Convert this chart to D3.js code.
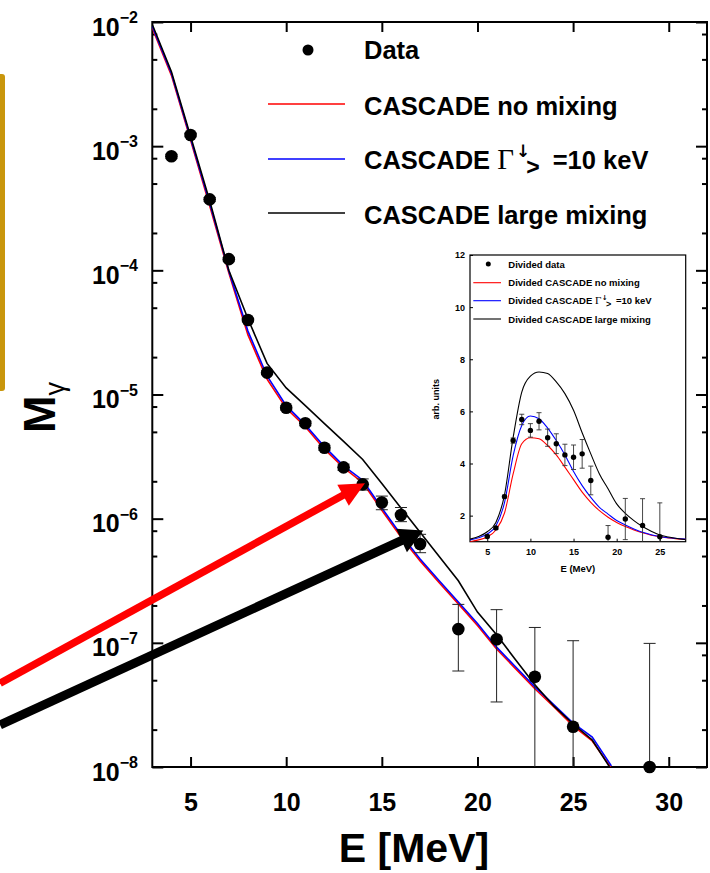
<!DOCTYPE html>
<html>
<head>
<meta charset="utf-8">
<script src="https://cdn.jsdelivr.net/npm/d3@7"></script>
<style>
  body { margin: 0; background: #fff; }
  svg { display: block; }
  text { font-family: "Liberation Sans", Arial, sans-serif; }
  .gray-aa { opacity: 0.995; }
</style>
</head>
<body>
<svg id="chart" width="710" height="873"></svg>
<script>
// ---- Main panel: gamma multiplicity vs energy ----
const modelEnergy = [3, 4, 5, 6, 7, 8, 9, 10, 11, 12, 13, 14, 15, 16, 17, 18, 19, 20, 21, 22, 23, 24, 25, 26, 27];
const noMixing = [8.91e-3, 3.72e-3, 1.12e-3, 3.31e-4, 9.55e-5, 3.02e-5, 1.33e-5, 7.74e-6, 5.50e-6, 3.63e-6, 2.57e-6, 1.95e-6, 1.17e-6, 7.13e-7, 4.57e-7, 3.05e-7, 2.06e-7, 1.38e-7, 8.91e-8, 6.17e-8, 4.27e-8, 3.04e-8, 2.14e-8, 1.62e-8, 9.8e-9];
const gamma10keV = [9.23e-3, 3.85e-3, 1.16e-3, 3.47e-4, 9.89e-5, 3.24e-5, 1.41e-5, 8.13e-6, 5.69e-6, 3.80e-6, 2.66e-6, 2.04e-6, 1.22e-6, 7.41e-7, 4.73e-7, 3.16e-7, 2.13e-7, 1.43e-7, 9.23e-8, 6.38e-8, 4.42e-8, 3.16e-8, 2.26e-8, 1.74e-8, 1.02e-8];
const largeMixing = [9.55e-3, 3.98e-3, 1.20e-3, 3.63e-4, 1.00e-4, 4.07e-5, 1.78e-5, 1.13e-5, 8.13e-6, 5.83e-6, 4.19e-6, 3.00e-6, 1.92e-6, 1.22e-6, 7.78e-7, 4.95e-7, 3.16e-7, 1.77e-7, 1.16e-7, 7.28e-8, 4.59e-8, 3.09e-8, 2.22e-8, 1.65e-8, 9.5e-9];

const dataEnergy = [4, 5, 6, 7, 8, 9, 10, 11, 12, 13, 14, 15, 16, 17, 19, 21, 23, 25, 29];
const dataM = [8.3e-4, 1.23e-3, 3.73e-4, 1.23e-4, 3.98e-5, 1.50e-5, 7.83e-6, 5.86e-6, 3.73e-6, 2.59e-6, 1.89e-6, 1.35e-6, 1.07e-6, 6.25e-7, 1.29e-7, 1.07e-7, 5.33e-8, 2.11e-8, 1.0e-8];
const dataLow = [8.0e-4, 1.19e-3, 3.6e-4, 1.19e-4, 3.85e-5, 1.45e-5, 7.5e-6, 5.6e-6, 3.55e-6, 2.45e-6, 1.70e-6, 1.18e-6, 9.46e-7, 5.32e-7, 5.93e-8, 3.34e-8, 0, 0, 0];
const dataHigh = [8.6e-4, 1.27e-3, 3.86e-4, 1.27e-4, 4.1e-5, 1.55e-5, 8.1e-6, 6.1e-6, 3.9e-6, 2.75e-6, 2.09e-6, 1.52e-6, 1.23e-6, 7.48e-7, 2.04e-7, 1.85e-7, 1.33e-7, 1.04e-7, 9.9e-8];

const xTickValues = [5, 10, 15, 20, 25, 30];
const yMajorExponents = [-2, -3, -4, -5, -6, -7, -8];
const yMinorMantissas = [2, 5, 8];

// arrows pointing at the 14 MeV and 17 MeV region (energy, multiplicity)
const arrowRed = { from: [-4.96, 4.72e-8], to: [14.12, 1.93e-6] };
const arrowBlack = { from: [-4.96, 2.18e-8], to: [17.17, 8.03e-7] };

// ---- Inset: divided spectra ----
const insetEnergy = [3, 4, 5, 6, 7, 8, 9, 10, 11, 12, 13, 14, 15, 16, 17, 18, 19, 20, 21, 22, 23, 24, 25, 26, 27, 28];
const insetNoMixing = [1.0, 1.07, 1.18, 1.45, 2.1, 3.6, 4.76, 4.99, 4.95, 4.69, 4.33, 3.86, 3.38, 2.9, 2.51, 2.19, 1.94, 1.74, 1.58, 1.45, 1.34, 1.25, 1.19, 1.14, 1.11, 1.09];
const insetGamma10keV = [1.07, 1.15, 1.3, 1.6, 2.5, 4.3, 5.46, 5.82, 5.72, 5.36, 4.88, 4.33, 3.69, 3.15, 2.70, 2.32, 2.06, 1.81, 1.64, 1.49, 1.36, 1.27, 1.2, 1.15, 1.12, 1.1];
const insetLargeMixing = [1.1, 1.2, 1.38, 1.74, 2.8, 5.0, 6.74, 7.35, 7.51, 7.45, 7.13, 6.68, 6.04, 5.18, 4.37, 3.6, 3.03, 2.45, 2.09, 1.81, 1.58, 1.4, 1.26, 1.18, 1.12, 1.08];
const insetDataEnergy = [5, 6, 7, 8, 9, 10, 11, 12, 13, 14, 15, 16, 17, 19, 21, 23, 25];
const insetDataValue = [1.2, 1.53, 2.73, 4.88, 5.69, 5.27, 5.62, 4.99, 4.76, 4.33, 4.24, 4.37, 3.35, 1.17, 1.87, 1.62, 1.19];
const insetDataError = [0.05, 0.05, 0.06, 0.1, 0.2, 0.26, 0.33, 0.33, 0.38, 0.41, 0.47, 0.55, 0.55, 0.45, 0.79, 1.03, 1.3];
const insetXTicks = [5, 10, 15, 20, 25];
const insetYTicks = [2, 4, 6, 8, 10, 12];

const RED = "#ff0000", BLUE = "#0000ff", BLACK = "#000000";
const ARROW_FONT = "DejaVu Sans, sans-serif";

const svg = d3.select("#chart");
svg.append("rect").attr("width", 710).attr("height", 873).attr("fill", "#fff");

// layout
const L = 152.3, R = 707, T = 22, B = 767;
const x = d3.scaleLinear().domain([3, 32]).range([L, R]);
const y = d3.scaleLog().domain([1e-8, 1e-2]).range([B, T]);

// side accent bar
svg.append("rect").attr("x", -5).attr("y", 74).attr("width", 10).attr("height", 317)
  .attr("rx", 3).attr("fill", "#c9960c");

svg.append("defs").append("clipPath").attr("id", "plotClip")
  .append("rect").attr("x", L).attr("y", T).attr("width", R - L).attr("height", B - T);

// axes: ticks drawn inward on all four sides
const yMajor = yMajorExponents.map(e => Math.pow(10, e));
const yMinor = [];
yMajorExponents.slice(1).forEach(e => yMinorMantissas.forEach(m => yMinor.push(m * Math.pow(10, e))));

function styleAxis(g) {
  g.select(".domain").remove();
  g.selectAll(".tick line").attr("stroke", "#000").attr("stroke-width", 2);
}
svg.append("g").attr("transform", `translate(${L},0)`)
  .call(d3.axisLeft(y).tickValues(yMajor).tickSize(-11).tickFormat("")).call(styleAxis);
svg.append("g").attr("transform", `translate(${L},0)`)
  .call(d3.axisLeft(y).tickValues(yMinor).tickSize(-5).tickFormat("")).call(styleAxis);
svg.append("g").attr("transform", `translate(${R},0)`)
  .call(d3.axisRight(y).tickValues(yMajor).tickSize(-11).tickFormat("")).call(styleAxis);
svg.append("g").attr("transform", `translate(${R},0)`)
  .call(d3.axisRight(y).tickValues(yMinor).tickSize(-5).tickFormat("")).call(styleAxis);
svg.append("g").attr("transform", `translate(0,${T})`)
  .call(d3.axisTop(x).tickValues(xTickValues).tickSize(-10).tickFormat("")).call(styleAxis);
const xAxisG = svg.append("g").attr("transform", `translate(0,${B})`)
  .call(d3.axisBottom(x).tickValues(xTickValues).tickSize(-10).tickPadding(26).tickFormat(d3.format("d")));
styleAxis(xAxisG);
xAxisG.selectAll(".tick text").attr("font-size", 25).attr("font-weight", "bold")
  .attr("font-family", "Liberation Sans, Arial, sans-serif").attr("fill", "#000");

svg.append("rect").attr("x", L).attr("y", T).attr("width", R - L).attr("height", B - T)
  .attr("fill", "none").attr("stroke", "#000").attr("stroke-width", 2);

// y tick labels as powers of ten
const yLab = svg.append("g");
yMajorExponents.forEach(e => {
  const t = yLab.append("text").attr("x", 138).attr("y", y(Math.pow(10, e)) + 13.5)
    .attr("text-anchor", "end").attr("font-size", 25).attr("font-weight", "bold");
  t.append("tspan").text("10");
  t.append("tspan").attr("font-size", 16).attr("dy", -12.5).text("\u2212" + Math.abs(e));
});

// model curves
const curves = [
  { values: noMixing, color: RED },
  { values: gamma10keV, color: BLUE },
  { values: largeMixing, color: BLACK }
];
const line = d3.line().x(d => x(d[0])).y(d => y(d[1]));
const curveG = svg.append("g").attr("clip-path", "url(#plotClip)");
curves.forEach(c => {
  curveG.append("path").datum(modelEnergy.map((e, i) => [e, c.values[i]]))
    .attr("d", line).attr("fill", "none").attr("stroke", c.color).attr("stroke-width", 1.6);
});

// data with error bars
const pts = dataEnergy.map((e, i) => ({ e, v: dataM[i], lo: dataLow[i], hi: dataHigh[i] }));
const yc = v => y(Math.max(v, 1e-8));
const errG = svg.append("g").attr("stroke", "#222").attr("stroke-width", 1);
pts.forEach(p => {
  const cx = x(p.e);
  errG.append("line").attr("x1", cx).attr("x2", cx).attr("y1", yc(p.lo)).attr("y2", yc(p.hi));
  errG.append("line").attr("x1", cx - 6).attr("x2", cx + 6).attr("y1", yc(p.hi)).attr("y2", yc(p.hi));
  if (p.lo > 1e-8) errG.append("line").attr("x1", cx - 6).attr("x2", cx + 6).attr("y1", yc(p.lo)).attr("y2", yc(p.lo));
});
svg.append("g").selectAll("circle").data(pts).join("circle")
  .attr("cx", d => x(d.e)).attr("cy", d => y(d.v)).attr("r", 6.3).attr("fill", "#000");

// axis titles
svg.append("text").attr("x", 414).attr("y", 862).attr("text-anchor", "middle")
  .attr("font-family", "Open Sans, sans-serif").attr("font-weight", "bold").attr("font-size", 41)
  .text("E [MeV]");
const yTitle = svg.append("text").attr("transform", "translate(55,433) rotate(-90)")
  .attr("font-weight", "bold").attr("font-size", 45);
yTitle.append("tspan").text("M");
yTitle.append("tspan").attr("font-size", 27).attr("font-weight", "normal").attr("dy", 9).text("\u03b3");

// legend
const lg = svg.append("g").attr("font-size", 25.5).attr("font-weight", "bold").attr("fill", "#000");
lg.append("circle").attr("cx", 308).attr("cy", 50).attr("r", 5.5).attr("fill", "#000");
lg.append("text").attr("x", 364).attr("y", 59).text("Data");
[[104, RED, "CASCADE no mixing"], [213, BLACK, "CASCADE large mixing"]].forEach(([yy, col, label]) => {
  lg.append("line").attr("x1", 268).attr("x2", 345).attr("y1", yy).attr("y2", yy)
    .attr("stroke", col).attr("stroke-width", 1.6);
  lg.append("text").attr("x", 364).attr("y", yy + 11).text(label);
});
lg.append("line").attr("x1", 268).attr("x2", 345).attr("y1", 159).attr("y2", 159)
  .attr("stroke", BLUE).attr("stroke-width", 1.6);
const gl = lg.append("text").attr("class", "gray-aa").attr("x", 364).attr("y", 169);
gl.append("tspan").text("CASCADE ");
gl.append("tspan").attr("font-family", "Liberation Serif, serif").attr("font-weight", "normal").attr("font-size", 29).text("\u0393");
gl.append("tspan").attr("font-family", ARROW_FONT).attr("font-weight", "bold").attr("fill", "#000")
  .attr("font-size", 17).attr("dx", 2).attr("dy", -12).text("\u2193");
gl.append("tspan").attr("font-size", 23).attr("dx", -4).attr("dy", 18).text(">");
gl.append("tspan").attr("dx", 6).attr("dy", -6).text(" =10 keV");

// arrows
function drawArrow(a, color, width, headLen, headHalf) {
  const x0 = x(a.from[0]), y0 = y(a.from[1]);
  const x1 = x(a.to[0]), y1 = y(a.to[1]);
  const len = Math.hypot(x1 - x0, y1 - y0);
  const ux = (x1 - x0) / len, uy = (y1 - y0) / len;
  const bx = x1 - headLen * ux, by = y1 - headLen * uy;
  svg.append("line").attr("x1", x0).attr("y1", y0).attr("x2", bx + ux).attr("y2", by + uy)
    .attr("stroke", color).attr("stroke-width", width);
  svg.append("polygon").attr("fill", color).attr("points", [
    [x1, y1], [bx - headHalf * uy, by + headHalf * ux], [bx + headHalf * uy, by - headHalf * ux]
  ].map(p => p.join(",")).join(" "));
}
drawArrow(arrowRed, RED, 7.5, 25, 12);
drawArrow(arrowBlack, BLACK, 9, 24, 13);

// ---- inset ----
const iL = 470, iR = 685.7, iT = 255, iB = 541.7;
const xi = d3.scaleLinear().domain([3, 28]).range([iL, iR]);
const yi = d3.scaleLinear().domain([1, 12]).range([iB, iT]);
const inset = svg.append("g");
inset.append("rect").attr("x", iL).attr("y", iT).attr("width", iR - iL).attr("height", iB - iT).attr("fill", "#fff");
inset.append("defs").append("clipPath").attr("id", "insetClip")
  .append("rect").attr("x", iL).attr("y", iT).attr("width", iR - iL).attr("height", iB - iT);

function styleInsetAxis(g) {
  g.select(".domain").remove();
  g.selectAll(".tick line").attr("stroke", "#000").attr("stroke-width", 1);
  g.selectAll(".tick text").attr("font-size", 9).attr("font-weight", "bold")
    .attr("font-family", "Liberation Sans, Arial, sans-serif").attr("fill", "#000");
}
inset.append("g").attr("transform", `translate(${iL},0)`)
  .call(d3.axisLeft(yi).tickValues(insetYTicks).tickSize(-3).tickPadding(5).tickFormat(d3.format("d")))
  .call(styleInsetAxis);
inset.append("g").attr("transform", `translate(0,${iB})`)
  .call(d3.axisBottom(xi).tickValues(insetXTicks).tickSize(-3).tickPadding(7).tickFormat(d3.format("d")))
  .call(styleInsetAxis);
inset.append("rect").attr("x", iL).attr("y", iT).attr("width", iR - iL).attr("height", iB - iT)
  .attr("fill", "none").attr("stroke", "#000").attr("stroke-width", 1.2);

const iline = d3.line().x(d => xi(d[0])).y(d => yi(d[1])).curve(d3.curveMonotoneX);
const icg = inset.append("g").attr("clip-path", "url(#insetClip)");
[[insetNoMixing, RED], [insetGamma10keV, BLUE], [insetLargeMixing, BLACK]].forEach(([vals, col]) => {
  icg.append("path").datum(insetEnergy.map((e, i) => [e, vals[i]])).attr("d", iline)
    .attr("fill", "none").attr("stroke", col).attr("stroke-width", 1.1);
});
const ipts = insetDataEnergy.map((e, i) => ({ e, v: insetDataValue[i], err: insetDataError[i] }));
const ieg = icg.append("g").attr("stroke", "#333").attr("stroke-width", 0.9);
ipts.forEach(p => {
  const cx = xi(p.e);
  ieg.append("line").attr("x1", cx).attr("x2", cx).attr("y1", yi(p.v - p.err)).attr("y2", yi(p.v + p.err));
  ieg.append("line").attr("x1", cx - 2.5).attr("x2", cx + 2.5).attr("y1", yi(p.v + p.err)).attr("y2", yi(p.v + p.err));
  ieg.append("line").attr("x1", cx - 2.5).attr("x2", cx + 2.5).attr("y1", yi(p.v - p.err)).attr("y2", yi(p.v - p.err));
});
inset.append("g").selectAll("circle").data(ipts).join("circle")
  .attr("cx", d => xi(d.e)).attr("cy", d => yi(d.v)).attr("r", 2.7).attr("fill", "#000");

inset.append("text").attr("x", (iL + iR) / 2).attr("y", 571.5).attr("text-anchor", "middle")
  .attr("font-size", 9.5).attr("font-weight", "bold").text("E (MeV)");
inset.append("text").attr("transform", `translate(439,${(iT + iB) / 2 + 1}) rotate(-90)`)
  .attr("text-anchor", "middle").attr("font-size", 9).attr("font-weight", "bold").text("arb. units");

const il = inset.append("g").attr("font-size", 9.5).attr("font-weight", "bold").attr("fill", "#000");
il.append("circle").attr("cx", 488.3).attr("cy", 264).attr("r", 2.5).attr("fill", "#000");
il.append("text").attr("x", 508.3).attr("y", 267.5).text("Divided data");
[[282.7, RED, "Divided CASCADE no mixing"], [319, BLACK, "Divided CASCADE large mixing"]].forEach(([yy, col, label]) => {
  il.append("line").attr("x1", 473.3).attr("x2", 501).attr("y1", yy).attr("y2", yy)
    .attr("stroke", col).attr("stroke-width", 1.1);
  il.append("text").attr("x", 508.3).attr("y", yy + 3.5).text(label);
});
il.append("line").attr("x1", 473.3).attr("x2", 501).attr("y1", 300.7).attr("y2", 300.7)
  .attr("stroke", BLUE).attr("stroke-width", 1.1);
const igl = il.append("text").attr("class", "gray-aa").attr("x", 508.3).attr("y", 304.2);
igl.append("tspan").text("Divided CASCADE ");
igl.append("tspan").attr("font-family", "Liberation Serif, serif").attr("font-weight", "normal").attr("font-size", 11).text("\u0393");
igl.append("tspan").attr("font-family", ARROW_FONT).attr("font-weight", "bold").attr("fill", "#000")
  .attr("font-size", 7).attr("dx", 0.5).attr("dy", -4.5).text("\u2193");
igl.append("tspan").attr("font-size", 9).attr("dx", -1.5).attr("dy", 7).text(">");
igl.append("tspan").attr("dx", 2).attr("dy", -2.5).text(" =10 keV");
</script>
</body>
</html>
